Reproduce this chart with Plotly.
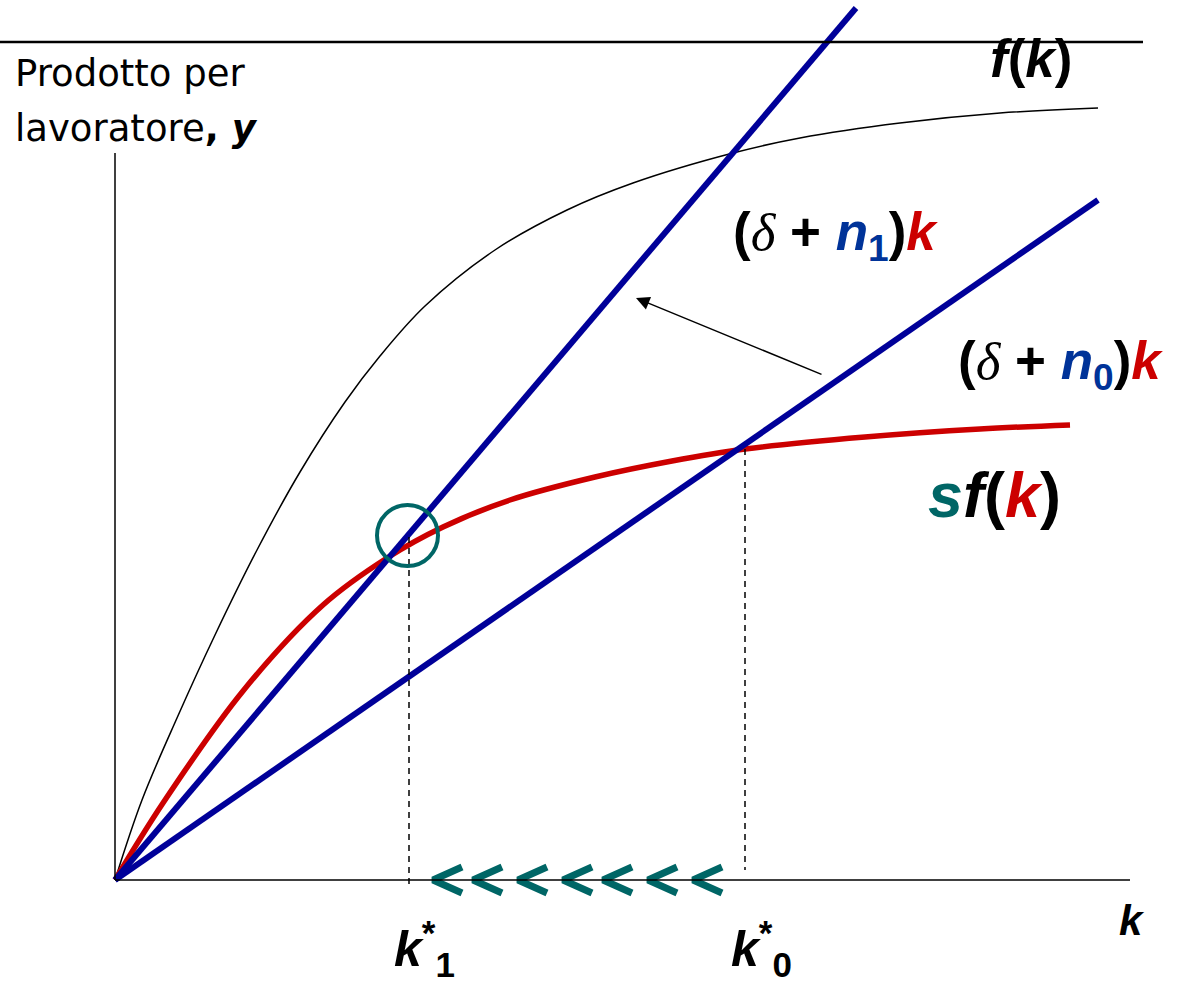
import plotly.graph_objects as go

# ---------------- data (k in model units, y in model units) ----------------
k_f = [0, 0.27, 0.62, 1.00, 1.42, 1.85, 2.30, 2.65, 3.10, 3.80, 4.52, 5.18, 6.18, 6.85, 7.85, 8.85, 9.83]
y_f = [0, 0.80, 1.62, 2.45, 3.30, 4.08, 4.78, 5.24, 5.74, 6.30, 6.70, 6.97, 7.27, 7.42, 7.57, 7.67, 7.72]

k_sf = [0, 0.48, 1.28, 2.08, 2.72, 3.28, 3.95, 4.80, 5.57, 6.30, 7.50, 8.65, 9.55]
y_sf = [0, 0.77, 1.89, 2.75, 3.22, 3.53, 3.80, 4.03, 4.19, 4.31, 4.43, 4.51, 4.55]

k_n1 = [0, 7.41]
y_n1 = [0, 8.72]
k_n0 = [0, 9.83]
y_n0 = [0, 6.80]

k_star = [2.94, 6.30]          # k*1, k*0
y_star = [3.43, 4.31]
chevron_k = [3.18, 3.58, 4.03, 4.48, 4.88, 5.33, 5.78]

BLUE = "#000099"
RED = "#CC0000"
TEAL = "#006666"
TXTBLUE = "#003399"


def px(xp):
    return (xp - 115) / 100.0


def py(yp):
    return (880 - yp) / 100.0


fig = go.Figure()

# f(k)
fig.add_trace(go.Scatter(x=k_f, y=y_f, mode="lines",
                         line=dict(color="black", width=1.5, shape="spline", smoothing=1.0),
                         hoverinfo="skip"))
# sf(k)
fig.add_trace(go.Scatter(x=k_sf, y=y_sf, mode="lines",
                         line=dict(color=RED, width=5.5, shape="spline", smoothing=1.0),
                         hoverinfo="skip"))
# depreciation lines
fig.add_trace(go.Scatter(x=k_n1, y=y_n1, mode="lines", line=dict(color=BLUE, width=6), hoverinfo="skip"))
fig.add_trace(go.Scatter(x=k_n0, y=y_n0, mode="lines", line=dict(color=BLUE, width=6), hoverinfo="skip"))

# dashed verticals
fig.add_trace(go.Scatter(x=[k_star[0], k_star[0], None, k_star[1], k_star[1]],
                         y=[y_star[0], -0.09, None, y_star[1], 0.1],
                         mode="lines", line=dict(color="black", width=1.5, dash="6px,5px"),
                         hoverinfo="skip"))

# chevrons
cx, cy = [], []
for t in chevron_k:
    cx += [t + 0.29, t, t + 0.29, None]
    cy += [0.13, 0, -0.13, None]
fig.add_trace(go.Scatter(x=cx, y=cy, mode="lines", line=dict(color=TEAL, width=7), hoverinfo="skip"))

shapes = [
    # top line
    dict(type="line", x0=px(0), x1=px(1143), y0=py(42), y1=py(42), line=dict(color="black", width=2.5)),
    # y axis
    dict(type="line", x0=0, x1=0, y0=0, y1=py(153), line=dict(color="black", width=1.5)),
    # x axis
    dict(type="line", x0=0, x1=px(1130), y0=0, y1=0, line=dict(color="black", width=1.5)),
    # circle
    dict(type="circle", x0=2.925 - 0.305, x1=2.925 + 0.305, y0=3.445 - 0.305, y1=3.445 + 0.305,
         line=dict(color=TEAL, width=4)),
]

F = "Liberation Sans, Arial, sans-serif"
DELTA = ('<span style="font-family:Liberation Serif;font-weight:normal;font-style:italic">'
         '\u03b4</span>')


def ann(text, xp, yp, size, color="black", family=F):
    return dict(text=text, x=px(xp), y=py(yp), xref="x", yref="y", showarrow=False,
                xanchor="left", yanchor="middle", font=dict(family=family, size=size, color=color))


def dep_label(sub):
    return ("<b>(</b>" + DELTA + "<b> + </b><b><i><span style='color:%s'>n</span></i></b>"
            "<sub><b><span style='color:%s'>%s</span></b></sub>"
            "<b>)<i><span style='color:%s'>k</span></i></b>") % (TXTBLUE, TXTBLUE, sub, RED)


annotations = [
    ann("Prodotto per", 13, 73, 37, family="DejaVu Sans"),
    ann("lavoratore<b>, <i>y</i></b>", 13, 128, 37, family="DejaVu Sans"),
    ann("<b><i>f</i>(<i>k</i>)</b>", 988, 58, 53),
    ann(dep_label("1"), 731, 235, 53),
    ann(dep_label("0"), 956, 364, 53),
    ann("<b><i><span style='color:%s'>s</span>f</i>(<i><span style='color:%s'>k</span></i>)</b>"
        % (TEAL, RED), 926, 495, 63),
    ann("<b><i>k</i></b>", 1117, 920, 42),
    ann("<b><i>k</i><sup>*</sup><sub>1</sub></b>", 392, 948, 50),
    ann("<b><i>k</i><sup>*</sup><sub>0</sub></b>", 729, 948, 50),
    # arrow from (δ+n0)k line to (δ+n1)k line
    dict(x=px(636), y=py(298), ax=px(823), ay=py(375), xref="x", yref="y", axref="x", ayref="y",
         showarrow=True, arrowhead=2, arrowsize=1.8, arrowwidth=1.5, arrowcolor="black", text=""),
]

fig.update_layout(
    width=1180, height=982,
    margin=dict(l=0, r=0, t=0, b=0),
    paper_bgcolor="white", plot_bgcolor="white",
    showlegend=False,
    xaxis=dict(range=[px(0), px(1180)], visible=False, fixedrange=True),
    yaxis=dict(range=[py(982), py(0)], visible=False, fixedrange=True),
    shapes=shapes,
    annotations=annotations,
)

fig.write_html("out.html")
